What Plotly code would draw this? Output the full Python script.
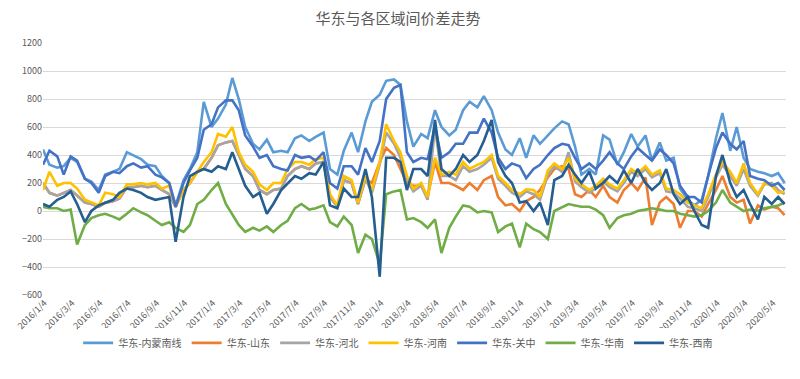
import pandas as pd
import plotly.graph_objects as go

# semi-monthly sample dates (1st and 15th), plus final point
dates = list(pd.date_range("2016-01-01", periods=106, freq="SMS")) + [pd.Timestamp("2020-05-29")]

neimeng = [440,330,310,320,380,350,230,210,150,260,280,300,420,400,370,330,320,250,200,40,220,300,420,780,600,660,760,950,800,600,480,
           440,510,420,430,420,520,540,500,530,560,300,260,430,560,420,640,780,830,930,940,900,640,460,550,520,720,600,540,580,720,780,740,820,720,560,440,400,520,380,
           540,480,540,590,640,620,460,260,300,260,540,510,330,420,550,460,540,360,490,360,380,160,80,40,80,250,520,700,430,600,380,300,280,270,250,270,200]

shandong = [200,130,110,130,150,110,60,50,30,60,70,90,170,170,180,170,180,150,120,30,150,200,280,300,380,470,490,500,400,300,250,
            150,120,150,160,250,300,320,300,340,350,100,30,220,200,50,230,200,350,450,400,300,200,180,180,100,350,200,200,180,150,200,150,220,250,100,40,50,0,70,
            100,150,240,300,320,300,120,100,150,100,180,100,60,150,200,150,240,-100,60,100,50,-120,0,0,-40,50,150,250,100,60,80,-90,40,10,30,20,-30]

hebei = [200,130,110,130,150,110,60,50,30,60,70,90,170,170,180,170,180,150,120,30,150,200,280,300,380,470,490,500,400,300,250,
         150,120,150,160,250,300,320,300,340,350,100,30,220,200,50,230,130,330,560,480,380,220,140,180,80,600,250,250,220,320,280,300,330,380,230,180,130,100,140,
         120,80,260,320,280,420,210,170,130,160,210,170,140,200,280,250,300,240,270,140,130,90,30,20,0,100,240,330,250,180,300,180,110,190,200,150,120]

henan = [150,280,180,200,200,160,80,60,40,130,120,100,190,190,200,190,200,160,180,30,150,200,280,350,420,550,530,600,420,330,280,
         190,150,200,200,300,350,350,330,370,380,120,40,250,220,60,250,150,350,620,500,420,250,160,200,100,380,260,280,260,350,300,330,350,400,250,200,150,120,155,
         150,100,290,340,300,380,230,190,150,180,230,190,160,220,300,270,320,260,290,160,150,120,60,40,20,120,260,350,280,200,340,200,120,200,180,130,140]

guanzhong = [330,430,390,260,390,360,230,200,130,250,280,270,320,340,310,320,260,240,200,30,200,290,380,580,620,740,790,790,720,540,460,
             380,400,320,300,290,400,380,390,360,420,200,160,320,320,260,450,350,500,800,880,900,420,350,380,370,600,380,420,480,480,560,560,660,560,380,300,340,320,235,
             300,330,400,450,480,470,380,300,340,300,360,420,340,300,390,450,400,360,440,400,340,180,100,100,60,250,450,560,480,440,500,250,230,220,180,200,150]

huanan = [30,20,20,0,10,-240,-100,-50,-30,-20,-40,-60,-20,20,-10,-30,-70,-100,-80,-120,-150,-100,50,80,150,200,50,-30,-100,-150,-120,
          -140,-110,-150,-100,-70,20,50,10,20,40,-80,-110,-40,-100,-300,-170,-200,-380,120,140,150,-60,-50,-80,-120,-60,-300,-120,-40,40,30,-10,0,-10,-150,-110,-90,-260,-90,
          -130,-150,-200,0,30,50,40,30,30,10,-30,-120,-50,-30,-20,0,10,20,10,0,0,-20,-30,-40,-30,0,60,150,60,30,0,10,0,20,30,40,60]

xinan = [50,30,80,100,140,50,-80,0,40,60,80,130,160,150,130,100,80,90,100,-220,100,250,280,300,280,320,300,420,300,180,100,
         130,-20,50,150,200,250,230,270,260,350,40,20,160,100,100,300,100,-470,380,380,350,150,300,300,250,650,300,250,300,400,350,400,500,650,350,250,200,60,70,
         0,60,-100,220,250,330,260,200,280,160,200,250,200,290,200,300,200,150,200,300,120,50,100,0,-100,-120,250,400,200,100,150,50,-60,100,50,100,50]

series_names = ["华东-内蒙南线", "华东-山东", "华东-河北", "华东-河南", "华东-关中", "华东-华南", "华东-西南"]
series_vals = [neimeng, shandong, hebei, henan, guanzhong, huanan, xinan]
colors = ["#5B9BD5", "#ED7D31", "#A5A5A5", "#FFC000", "#4472C4", "#70AD47", "#255E91"]

tick_dates = list(pd.date_range("2016-01-01", "2020-05-01", freq="2MS") + pd.Timedelta(days=3))
tick_labels = [f"{d.year}/{d.month}/{d.day}" for d in tick_dates]
y_ticks = [-600, -400, -200, 0, 200, 400, 600, 800, 1000, 1200]

fig = go.Figure()
for name, vals, col in zip(series_names, series_vals, colors):
    fig.add_trace(go.Scatter(x=dates, y=vals, mode="lines", name=name,
                             line=dict(color=col, width=2.6)))

font_family = "Noto Sans CJK SC, sans-serif"
fig.update_layout(
    width=800, height=379,
    margin=dict(l=35, r=22, t=35, b=92, autoexpand=False),
    paper_bgcolor="white", plot_bgcolor="white",
    title=dict(text="华东与各区域间价差走势", x=0.4875, xanchor="center", y=0.972, yanchor="middle",
               font=dict(family=font_family, size=15, color="#595959")),
    font=dict(family=font_family, size=10, color="#595959"),
    legend=dict(orientation="h", x=0.478, xanchor="center", y=-0.19, yanchor="middle",
                font=dict(size=10, color="#595959"), itemwidth=30, tracegroupgap=0),
    showlegend=True,
)
fig.update_xaxes(range=["2016-01-01", "2020-06-01"], tickvals=tick_dates, ticktext=tick_labels,
                 tickangle=-45, showgrid=False, showline=False, ticks="", automargin=False,
                 tickfont=dict(size=9, color="#595959"))
fig.update_yaxes(range=[-600, 1200], tickvals=y_ticks, showgrid=True, gridcolor="#D9D9D9",
                 gridwidth=1, zeroline=False, showline=False, ticks="", automargin=False,
                 tickfont=dict(size=9, color="#595959"))

fig.write_html("out.html")
